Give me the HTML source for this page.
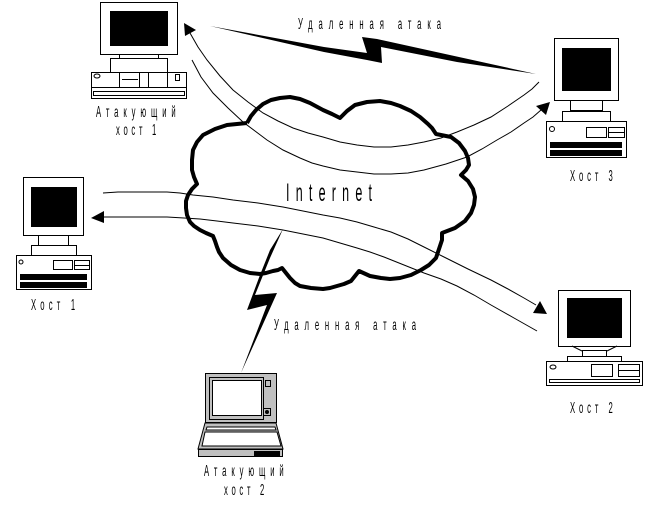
<!DOCTYPE html>
<html><head><meta charset="utf-8"><style>
html,body{margin:0;padding:0;background:#fff;width:648px;height:516px;overflow:hidden}
svg{display:block}
text{font-family:"Liberation Sans","DejaVu Sans",sans-serif;fill:#000}
.r rect,.r line{shape-rendering:crispEdges}
.o{fill:#fff;stroke:#000;stroke-width:1}
.b{fill:#000}
.t{fill:none;stroke:#000;stroke-width:1}
</style></head><body>
<svg width="648" height="516" viewBox="0 0 648 516" xmlns="http://www.w3.org/2000/svg">
<rect width="648" height="516" fill="#fff"/>

<!-- arcs -->
<polyline class="t" points="190,33 198,47 207,60 220,76 233,90 248,102 263,113 278,121 293,128 308,133 323,137 340,142 357,145 374,147 391,147 408,145 424,142 441,138 457,132 474,125 491,117 508,106 524,95 532,89 539,82"/>
<polyline class="t" points="192,60 201,77 213,93 228,108 243,122 255,131 267,140 283,150 300,158 312,163 323,166 340,170 357,172 374,174 391,174 408,173 424,170 446,164 467,157 482,149 497,140 511,132 524,123 533,117 541,110"/>
<polyline class="t" points="103,193 118,192 133,192 150,192 167,192 180,193 193,195 213,197 233,200 258,203 283,207 303,211 323,215 340,218 357,222 374,227 391,232 408,239 424,247 444,257 468,269 491,280 508,289 524,298 536,305"/>
<polyline class="t" points="104,217 112,217 140,217 167,217 184,218 200,219 217,221 233,223 258,226 283,230 303,234 323,238 340,243 357,248 370,252 384,257 404,265 424,273 441,279 457,286 474,295 491,305 514,318 537,331"/>

<!-- arrowheads -->
<polygon class="b" points="184,23 196,30 185,36"/>
<polygon class="b" points="536,106 550,102 546,115"/>
<polygon class="b" points="540,301 547,314 533,313"/>
<polygon class="b" points="91,218 104,211 104,223"/>

<!-- cloud -->
<polyline fill="none" stroke="#000" stroke-width="4" stroke-linejoin="round" points="247,123 251,116 256,110 263,104 271,100 280,98 290,97 300,99 310,103 323,110 332,114 340,118 347,111 355,105 367,102 380,101 391,103 400,106 411,111 420,117 428,124 432,128 436,134 451,137 459,143 465,151 468,158 469,165 466,170 461,175 468,181 473,189 475,197 474,205 471,213 465,221 455,228 442,233 442,240 439,249 436,258 429,265 421,270 411,275 400,278 390,279 381,278 370,276 359,271 355,276 351,281 344,284 337,286 330,288 323,289 311,288 300,286 295,283 290,278 286,273 282,268 278,270 273,271 266,273 260,274 250,273 240,270 231,265 223,258 219,252 217,247 215,241 213,236 206,233 200,230 194,226 190,222 187,215 186,208 186,201 188,195 192,189 197,184 194,177 192,170 192,160 193,150 197,142 203,135 215,129 227,125 237,124 247,123"/>

<!-- lightning top -->
<polygon class="b" points="210,26 324,47 367,53 362,37 377,39 536,74 457,62 381,47 382,63 367,60 324,52"/>
<!-- lightning bottom -->
<polygon class="b" points="283,229 270,258 255,295 277,293 241,373 267,305 247,310 260,275 270,250"/>

<!-- attacker host 1 -->
<g class="r">
<rect class="o" x="100.5" y="2.5" width="77" height="52"/>
<rect class="b" x="110" y="11" width="58" height="35"/>
<rect class="o" x="119.5" y="54.5" width="39" height="4"/>
<rect class="o" x="110.5" y="58.5" width="57" height="14"/>
<rect class="o" x="91.5" y="72.5" width="95" height="26"/>
<line x1="91" y1="87.5" x2="187" y2="87.5" stroke="#000"/>
<rect class="o" x="93.5" y="91.5" width="91" height="4"/>
<line x1="119.5" y1="72" x2="119.5" y2="87" stroke="#000"/>
<line x1="139.5" y1="72" x2="139.5" y2="87" stroke="#000"/>
<line x1="148.5" y1="72" x2="148.5" y2="87" stroke="#000"/>
<line x1="167.5" y1="72" x2="167.5" y2="87" stroke="#000"/>
<line x1="122" y1="79.5" x2="138" y2="79.5" stroke="#000"/>
<rect class="o" x="175.5" y="74.5" width="4" height="6"/>
</g>
<ellipse class="o" cx="97" cy="76" rx="3" ry="2"/>

<!-- host 1 -->
<g class="r">
<rect class="o" x="23.5" y="177.5" width="60" height="58"/>
<rect class="b" x="31" y="187" width="46" height="40"/>
<rect class="o" x="38.5" y="235.5" width="30" height="10"/>
<rect class="o" x="31.5" y="245.5" width="45" height="10"/>
<rect class="o" x="16.5" y="255.5" width="75" height="34"/>
<rect class="o" x="53.5" y="260.5" width="19" height="9"/>
<rect class="o" x="74.5" y="260.5" width="15" height="9"/>
<line x1="75" y1="265.5" x2="89" y2="265.5" stroke="#000"/>
<rect class="b" x="20" y="274" width="67" height="6"/>
<rect class="b" x="20" y="282" width="67" height="6"/>
</g>
<circle class="o" cx="21" cy="262" r="2"/>

<!-- host 3 -->
<g class="r">
<rect class="o" x="554.5" y="38.5" width="64" height="62"/>
<rect class="b" x="562" y="48" width="49" height="43"/>
<rect class="o" x="570.5" y="100.5" width="32" height="10"/>
<rect class="o" x="562.5" y="111.5" width="48" height="10"/>
<rect class="o" x="546.5" y="121.5" width="80" height="36"/>
<rect class="o" x="586.5" y="127.5" width="20" height="10"/>
<rect class="o" x="608.5" y="127.5" width="16" height="10"/>
<line x1="609" y1="132.5" x2="624" y2="132.5" stroke="#000"/>
<rect class="b" x="550" y="142" width="72" height="6"/>
<rect class="b" x="550" y="150" width="72" height="6"/>
</g>
<circle class="o" cx="552" cy="129" r="2.5"/>

<!-- host 2 -->
<g class="r">
<rect class="o" x="558.5" y="290.5" width="72" height="56"/>
<rect class="b" x="567" y="298" width="55" height="40"/>
<rect class="o" x="582.5" y="350.5" width="24" height="6"/>
<rect class="o" x="567.5" y="356.5" width="54" height="5"/>
<rect class="o" x="546.5" y="361.5" width="96" height="24"/>
<rect class="o" x="591.5" y="364.5" width="21" height="12"/>
<rect class="o" x="618.5" y="364.5" width="21" height="12"/>
<line x1="618" y1="370.5" x2="640" y2="370.5" stroke="#000"/>
<rect class="o" x="549.5" y="379.5" width="90" height="3"/>
</g>
<line x1="572" y1="346" x2="582" y2="351" stroke="#000"/>
<line x1="617" y1="346" x2="607" y2="351" stroke="#000"/>
<ellipse class="o" cx="553" cy="367" rx="3" ry="2"/>

<!-- laptop -->
<g>
<polygon fill="#c0c0c0" stroke="#000" points="205,423 198,449 283,449 276,423"/>
<polygon fill="#fff" stroke="#000" points="207,427 275,427 276,430 206,430"/>
<polygon fill="#fff" stroke="#000" points="205,432 277,432 281,446 202,446"/>
<g class="r">
<rect x="205.5" y="373.5" width="71" height="49" fill="#c0c0c0" stroke="#000"/>
<rect x="209.5" y="377.5" width="54" height="42" fill="#c0c0c0" stroke="#000"/>
<rect x="212.5" y="380.5" width="49" height="35" fill="#fff" stroke="#000"/>
<rect x="265.5" y="380.5" width="5" height="6" fill="#c0c0c0" stroke="#000"/>
<rect x="263.5" y="408.5" width="7" height="7" fill="#c0c0c0" stroke="#000"/>
<rect x="198.5" y="449.5" width="84" height="7" fill="#c0c0c0" stroke="#000"/>
<rect class="b" x="254" y="451" width="26" height="5"/>
</g>
<circle class="b" cx="267" cy="412" r="2"/>
</g>

<!-- labels -->
<text transform="translate(298,29) scale(.48,1)" font-size="16" textLength="298" lengthAdjust="spacing">Удаленная атака</text>
<text transform="translate(96,117) scale(.48,1)" font-size="16" textLength="166" lengthAdjust="spacing">Атакующий</text>
<text transform="translate(116,135) scale(.48,1)" font-size="16" textLength="84" lengthAdjust="spacing">хост 1</text>
<text transform="translate(570,181) scale(.48,1)" font-size="16" textLength="89" lengthAdjust="spacing">Хост 3</text>
<text transform="translate(31,310) scale(.48,1)" font-size="16" textLength="92" lengthAdjust="spacing">Хост 1</text>
<text transform="translate(570,413) scale(.48,1)" font-size="16" textLength="89" lengthAdjust="spacing">Хост 2</text>
<text transform="translate(274,330) scale(.48,1)" font-size="16" textLength="296" lengthAdjust="spacing">Удаленная атака</text>
<text transform="translate(204,476) scale(.48,1)" font-size="16" textLength="166" lengthAdjust="spacing">Атакующий</text>
<text transform="translate(224,495) scale(.48,1)" font-size="16" textLength="84" lengthAdjust="spacing">хост 2</text>
<text transform="translate(286,201) scale(.5,1)" font-size="25" textLength="172" lengthAdjust="spacing">Internet</text>
</svg>
</body></html>
